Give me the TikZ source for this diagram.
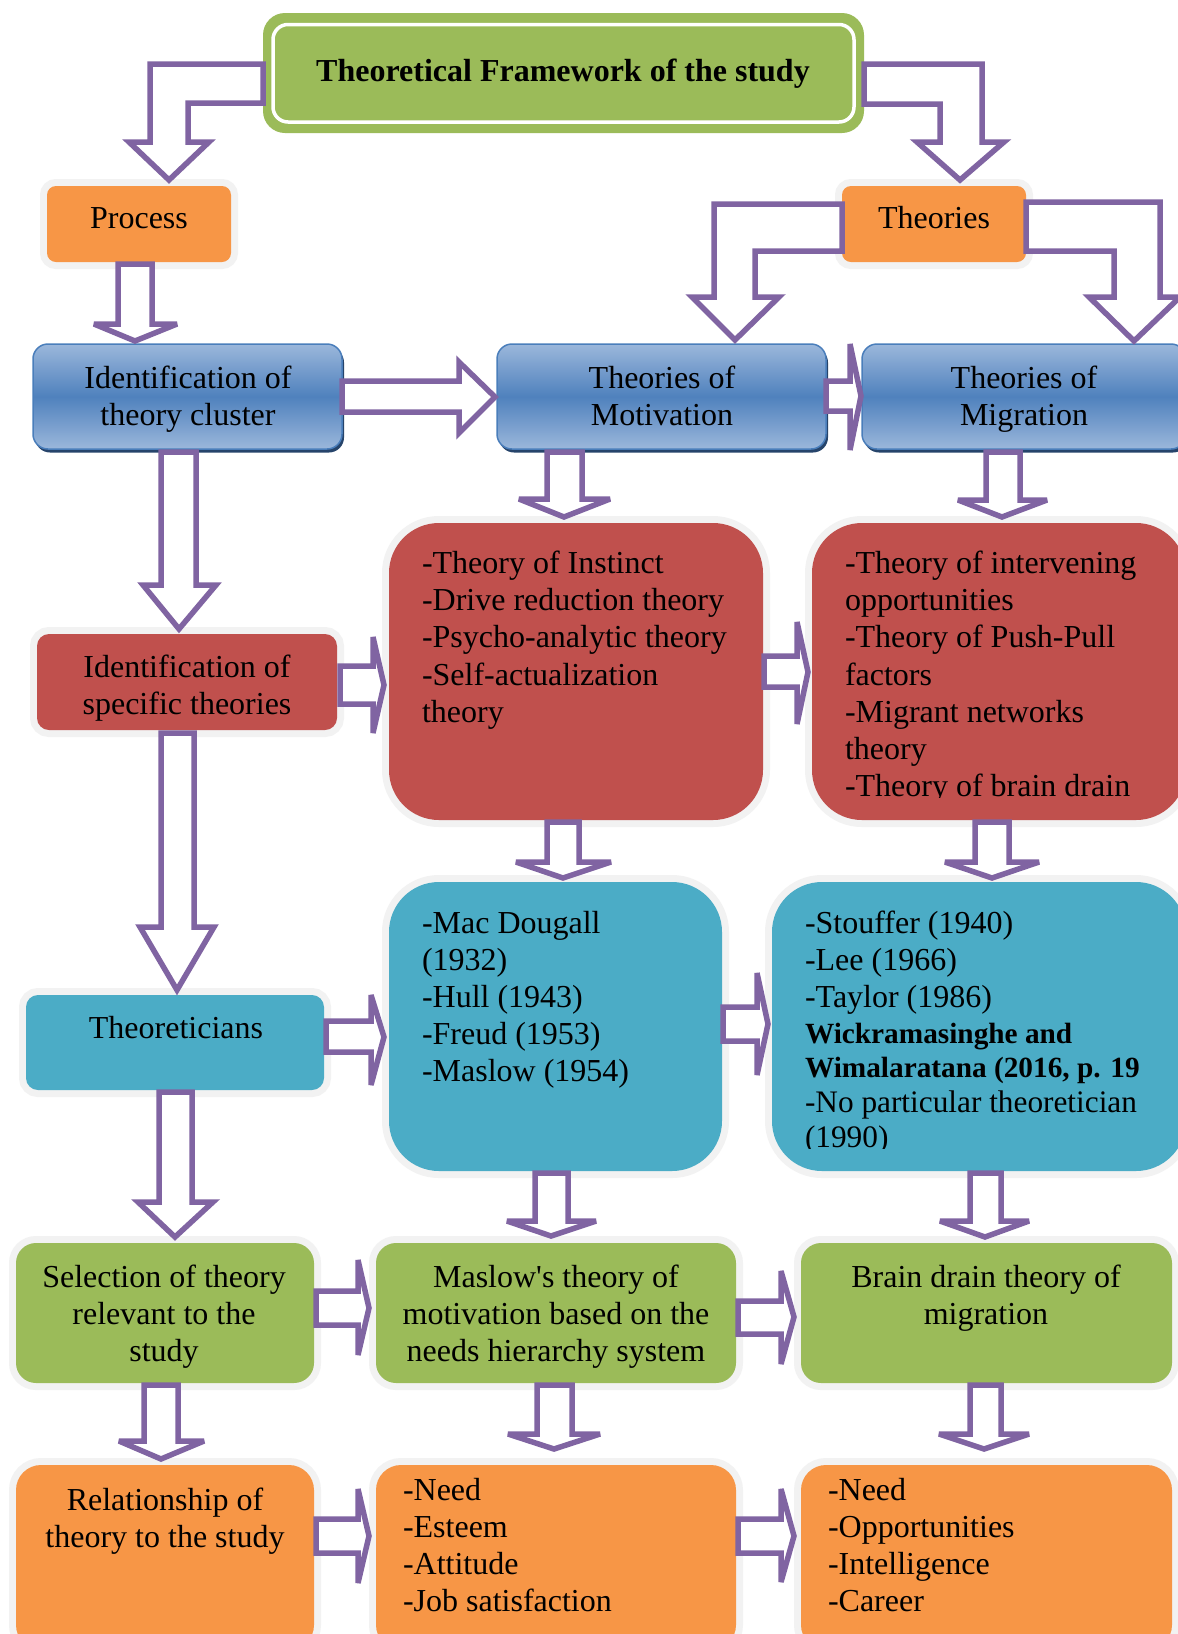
\documentclass[tikz,border=0pt]{standalone}
\usepackage{fontspec}
\setmainfont{Liberation Serif}
\usetikzlibrary{shadows}
\definecolor{greenC}{HTML}{9BBB59}
\definecolor{orangeC}{HTML}{F79646}
\definecolor{redC}{HTML}{C0504D}
\definecolor{tealC}{HTML}{4BACC6}
\definecolor{purpleC}{HTML}{8064A2}
\definecolor{haloC}{HTML}{F2F2F2}
\definecolor{blueMid}{HTML}{4F81BD}
\definecolor{blueTop}{HTML}{9BB7DB}
\definecolor{blueLine}{HTML}{4A7EBB}
\definecolor{blueShadow}{HTML}{26446B}
\newcommand{\fsA}{\fontsize{32}{37.2}\selectfont}
\newcommand{\fsB}{\fontsize{29.3}{34.2}\selectfont}
\newcommand{\fsC}{\fontsize{31.3}{35}\selectfont}
\newcommand{\fstrut}{\rule{0pt}{24pt}}
\newcommand{\fstrutB}{\rule{0pt}{22pt}}
% box node from corners: name, x1, y1, x2, y2, style
\newcommand{\bxA}[6]{\node[#6, minimum width={(#4)-(#2)}, minimum height={(#5)-(#3)}] (#1) at ({((#2)+(#4))/2},{((#3)+(#5))/2}) {};}
% vertical block arrow: xl xr ytop ybase hl hr tipx tipy
\newcommand{\vArrowA}[8]{\draw[barrow] (#1,#3) -- (#2,#3) -- (#2,#4) -- (#6,#4) -- (#7,#8) -- (#5,#4) -- (#1,#4) -- cycle;}
% horizontal block arrow: xleft ytop ybot xbase htop hbot tipx tipy
\newcommand{\hArrowA}[8]{\draw[barrow] (#1,#2) -- (#4,#2) -- (#4,#5) -- (#7,#8) -- (#4,#6) -- (#4,#3) -- (#1,#3) -- cycle;}
\begin{document}
\begin{tikzpicture}[x=1pt,y=-1pt,
  base/.style={inner sep=0pt, outer sep=0pt, rectangle},
  hbox/.style 2 args={base, fill=#1, rounded corners=#2, preaction={draw=haloC, line width=14pt}},
  bbox/.style={base, rounded corners=15pt, top color=blueTop, bottom color=blueTop, middle color=blueMid,
     draw=blueLine, line width=1.5pt,
     drop shadow={shadow xshift=2pt, shadow yshift=-3.5pt, fill=blueShadow, opacity=1}},
  barrow/.style={draw=purpleC, fill=white, line width=5.5pt, line join=miter, miter limit=4},
  txt/.style={inner sep=0pt, outer sep=0pt, font=\fsA}]
\useasboundingbox (0,0) rectangle (1178,1634);
\fill[white] (0,0) rectangle (1178,1634);
\clip (0,0) rectangle (1178,1634);

% ---------- boxes ----------
\bxA{title}{263}{13}{864}{133}{base, fill=greenC, rounded corners=22pt}
\bxA{titlein}{273}{24.5}{854}{122}{base, fill=greenC, draw=white, line width=3.5pt, rounded corners=15pt}
\bxA{proc}{47}{186}{231}{262}{hbox={orangeC}{9pt}}
\bxA{theo}{842}{186}{1026}{262}{hbox={orangeC}{9pt}}
\bxA{ident}{33}{344}{342}{449}{bbox}
\bxA{motiv}{497}{344}{826}{449}{bbox}
\bxA{migr}{862}{344}{1186}{449}{bbox}
\bxA{spec}{37}{634}{337}{730}{hbox={redC}{12pt}}
\bxA{inst}{389}{523}{763}{820}{hbox={redC}{50pt}}
\bxA{interv}{812}{523}{1186}{820}{hbox={redC}{50pt}}
\bxA{theoret}{26}{995}{324}{1090}{hbox={tealC}{12pt}}
\bxA{macd}{389}{882}{722}{1171}{hbox={tealC}{50pt}}
\bxA{stouf}{772}{882}{1186}{1171}{hbox={tealC}{50pt}}
\bxA{select}{16}{1243}{314}{1383}{hbox={greenC}{20pt}}
\bxA{maslow}{376}{1243}{736}{1383}{hbox={greenC}{20pt}}
\bxA{brain}{801}{1243}{1172}{1383}{hbox={greenC}{20pt}}
\bxA{relat}{16}{1465}{314}{1650}{hbox={orangeC}{25pt}}
\bxA{need}{376}{1465}{736}{1650}{hbox={orangeC}{25pt}}
\bxA{needb}{801}{1465}{1172}{1650}{hbox={orangeC}{25pt}}

% ---------- block arrows ----------
\draw[barrow] (263,64) -- (150,64) -- (150,142) -- (129,142) -- (169,180) -- (209,142) -- (188,142) -- (188,103) -- (263,103) -- cycle;
\draw[barrow] (864,64) -- (982,64) -- (982,142) -- (1004,142) -- (960,180) -- (917,142) -- (940,142) -- (940,104) -- (864,104) -- cycle;
\draw[barrow] (842,204) -- (714,204) -- (714,297) -- (692,297) -- (735,340) -- (779,297) -- (755,297) -- (755,251) -- (842,251) -- cycle;
\draw[barrow] (1026,202) -- (1160,202) -- (1160,297) -- (1180,297) -- (1134,341) -- (1089,297) -- (1114,297) -- (1114,251) -- (1026,251) -- cycle;

\vArrowA{118}{152}{264}{324}{94}{177}{135}{341}
\vArrowA{161}{196}{452}{585}{143}{216}{179}{629}
\vArrowA{547}{582}{452}{499}{519}{610}{564}{517}
\vArrowA{986}{1020}{452}{500}{958}{1047}{1002}{517}
\vArrowA{161}{194}{733}{927}{140}{214}{177}{990}
\vArrowA{547}{579}{822}{862}{516}{611}{563}{878}
\vArrowA{975}{1009}{822}{862}{945}{1039}{992}{878}
\vArrowA{159}{192}{1092}{1202}{138}{213}{175}{1237}
\vArrowA{535}{568}{1173}{1221}{507}{596}{551}{1236}
\vArrowA{970}{1001}{1173}{1221}{940}{1029}{985}{1237}
\vArrowA{144}{178}{1385}{1441}{119}{204}{161}{1459}
\vArrowA{537}{572}{1385}{1434}{508}{600}{554}{1449}
\vArrowA{970}{1001}{1385}{1434}{939}{1029}{984}{1449}

\hArrowA{342}{381}{412}{459}{362}{433}{495}{397}
\hArrowA{826}{381}{411}{850}{344}{450}{861}{396}
\hArrowA{340}{666}{704}{373}{637}{733}{384}{685}
\hArrowA{764}{656}{687}{797}{622}{724}{808}{672}
\hArrowA{326}{1021}{1052}{371}{995}{1085}{384}{1037}
\hArrowA{723}{1007}{1041}{757}{973}{1075}{768}{1024}
\hArrowA{316}{1291}{1325}{358}{1260}{1355}{369}{1308}
\hArrowA{738}{1301}{1334}{781}{1271}{1364}{794}{1317}
\hArrowA{316}{1519}{1553}{358}{1489}{1583}{369}{1536}
\hArrowA{738}{1519}{1553}{781}{1489}{1582}{794}{1536}

% ---------- texts ----------
\node[txt, anchor=base, font=\fsA\bfseries] (titleT) at (563,81) {Theoretical Framework of the study};
\node[txt, anchor=base] (procT) at (139,228) {Process};
\node[txt, anchor=base] (theoT) at (934,228) {Theories};
\node[txt, anchor=north, align=center] (identT) at (188,364) {\fstrut Identification of\\theory cluster};
\node[txt, anchor=north, align=center] (motivT) at (662,364) {\fstrut Theories of\\Motivation};
\node[txt, anchor=north, align=center] (migrT) at (1024,364) {\fstrut Theories of\\Migration};
\node[txt, anchor=north, align=center] (specT) at (187,653) {\fstrut Identification of\\specific theories};
\node[txt, anchor=north west, align=left] (instT) at (422,549.5) {\fstrut -Theory of Instinct\\-Drive reduction theory\\-Psycho-analytic theory\\-Self-actualization\\theory};
\begin{scope}
\clip (805,515) rectangle (1190,797);
\node[txt, anchor=north west, align=left] (intervT) at (845,549.5) {\fstrut -Theory of intervening\\opportunities\\-Theory of Push-Pull\\factors\\-Migrant networks\\theory\\-Theory of brain drain};
\end{scope}
\node[txt, anchor=base] (theoretT) at (176,1038) {Theoreticians};
\node[txt, anchor=north west, align=left] (macdT) at (422,909) {\fstrut -Mac Dougall\\(1932)\\-Hull (1943)\\-Freud (1953)\\-Maslow (1954)};
\begin{scope}
\clip (765,875) rectangle (1190,1148);
\node[txt, anchor=north west, align=left] (stoufA) at (805,909) {\fstrut -Stouffer (1940)\\-Lee (1966)\\-Taylor (1986)};
\node[txt, anchor=north west, align=left, font=\fsB\bfseries] (stoufB) at (805,1021) {\fstrutB Wickramasinghe and\\Wimalaratana (2016, p. 19};
\node[txt, anchor=north west, align=left, font=\fsC] (stoufC) at (805,1088) {\fstrut -No particular theoretician\\(1990)};
\end{scope}
\node[txt, anchor=north, align=center] (selectT) at (164,1263) {\fstrut Selection of theory\\relevant to the\\study};
\node[txt, anchor=north, align=center] (maslowT) at (556,1263) {\fstrut Maslow\textquotesingle s theory of\\motivation based on the\\needs hierarchy system};
\node[txt, anchor=north, align=center] (brainT) at (986,1263) {\fstrut Brain drain theory of\\migration};
\node[txt, anchor=north, align=center] (relatT) at (165,1486) {\fstrut Relationship of\\theory to the study};
\node[txt, anchor=north west, align=left] (needT) at (403,1476) {\fstrut -Need\\-Esteem\\-Attitude\\-Job satisfaction};
\node[txt, anchor=north west, align=left] (needbT) at (828,1476) {\fstrut -Need\\-Opportunities\\-Intelligence\\-Career};
\end{tikzpicture}
\end{document}
